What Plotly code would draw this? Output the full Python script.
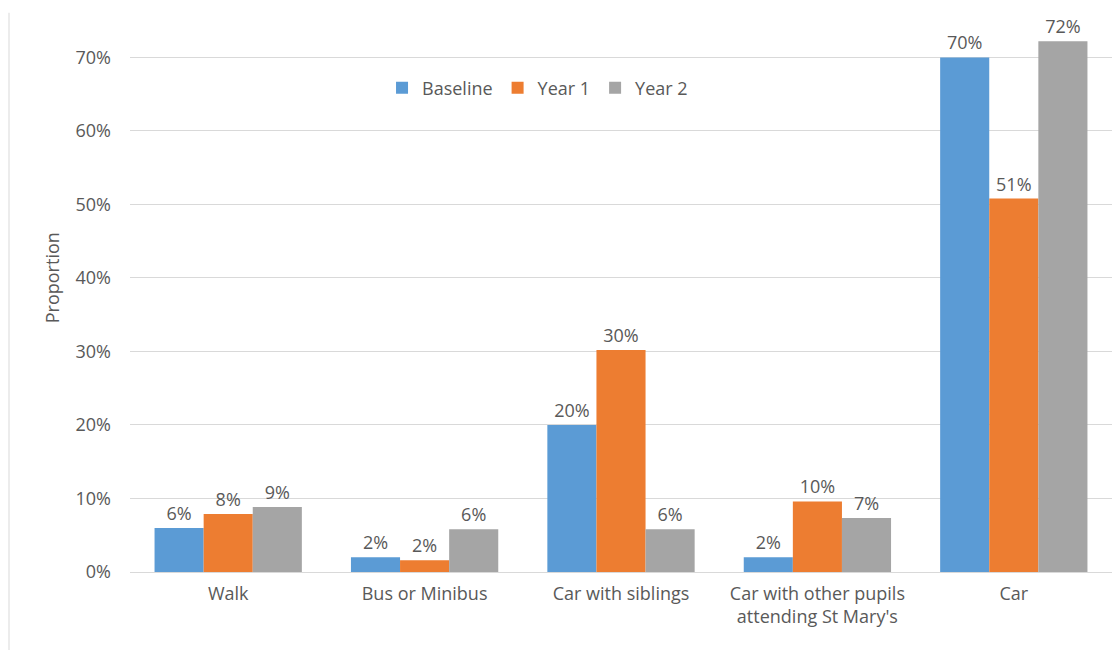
import plotly.graph_objects as go

categories = ["Walk", "Bus or Minibus", "Car with siblings",
              "Car with other pupils<br>attending St Mary's", "Car"]
baseline = [0.060, 0.020, 0.200, 0.020, 0.700]
year1 = [0.079, 0.016, 0.302, 0.096, 0.508]
year2 = [0.0885, 0.058, 0.058, 0.0735, 0.722]
series_names = ["Baseline", "Year 1", "Year 2"]
colors = ["#5B9BD5", "#ED7D31", "#A5A5A5"]
tick_vals = [0, 0.1, 0.2, 0.3, 0.4, 0.5, 0.6, 0.7]

FONT = "Open Sans"
TXT = "#595959"
FS = 18

fig = go.Figure()
for name, vals, col in zip(series_names, [baseline, year1, year2], colors):
    fig.add_trace(go.Bar(
        x=categories, y=vals, name=name, marker_color=col,
        marker_line_width=0,
        texttemplate="%{y:.0%}", textposition="outside",
        textfont=dict(family=FONT, size=FS, color=TXT),
        cliponaxis=False,
    ))

fig.update_layout(
    width=1116, height=650,
    margin=dict(l=130, r=4, t=6, b=78),
    paper_bgcolor="white", plot_bgcolor="white",
    barmode="group", bargap=0.25, bargroupgap=0,
    font=dict(family=FONT, size=FS, color=TXT),
    showlegend=True,
    legend=dict(orientation="h", x=0.415, xanchor="center", y=0.855, yanchor="middle",
                font=dict(family=FONT, size=FS, color=TXT), bgcolor="rgba(0,0,0,0)",
                itemwidth=30, traceorder="normal"),
    xaxis=dict(showgrid=False, showline=False, ticks="", ticklabelstandoff=9,
               tickfont=dict(family=FONT, size=FS, color=TXT)),
    yaxis=dict(range=[0, 0.77], tickvals=tick_vals, tickformat=".0%",
               showgrid=True, gridcolor="#d9d9d9", gridwidth=1,
               zeroline=True, zerolinecolor="#d9d9d9", zerolinewidth=1,
               showline=False, ticks="", ticklabelstandoff=18,
               tickfont=dict(family=FONT, size=FS, color=TXT)),
    annotations=[dict(text="Proportion", textangle=-90, xref="paper", yref="paper",
                      x=(52 - 130) / 982, y=0.519, xanchor="center", yanchor="middle",
                      showarrow=False, font=dict(family=FONT, size=FS, color=TXT))],
    shapes=[dict(type="line", xref="paper", yref="paper",
                 x0=(9 - 130) / 982, x1=(9 - 130) / 982, y0=0.988, y1=-0.138,
                 line=dict(color="#d9d9d9", width=1))],
)

fig.write_html("out.html")
